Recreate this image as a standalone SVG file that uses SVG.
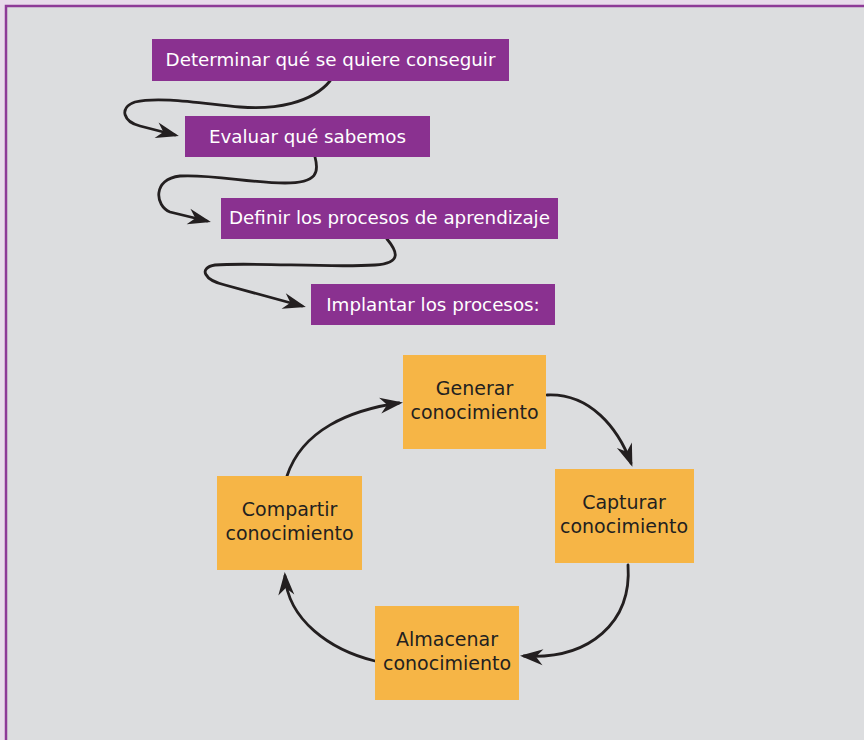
<svg xmlns="http://www.w3.org/2000/svg" width="864" height="740" viewBox="0 0 864 740">
<defs>
<style>
.pbox{fill:#8a3190}
.obox{fill:#f6b546}
.pt{font-family:"DejaVu Sans",sans-serif;font-size:18.3px;fill:#ffffff;text-anchor:middle}
.ot{font-family:"DejaVu Sans",sans-serif;font-size:19px;fill:#231f20;text-anchor:middle}
.con{fill:none;stroke:#231f20;stroke-width:2.8;stroke-linecap:round}
</style>
<marker id="ah" viewBox="-22 -10 28 20" refX="0" refY="0" markerWidth="28" markerHeight="20" markerUnits="userSpaceOnUse" orient="auto">
<path d="M4,0 L-19,-8 L-12,0 L-19,8 Z" fill="#231f20"/>
</marker>
</defs>
<rect x="0" y="0" width="864" height="740" fill="#e8dbeb"/>
<rect x="6" y="6" width="870" height="750" fill="#dcdddf" stroke="#8e3a98" stroke-width="2.5"/>

<g id="connectors">
<path class="con" marker-end="url(#ah)" d="M330,81 C312,103 275,110 240,107 C205,104 160,96 135,102 C118,108 124,122 140,126 L175,135"/>
<path class="con" marker-end="url(#ah)" d="M315,157 C319,172 318,183 285,183 C250,183 212,174 180,176 C152,179 155,206 170,212 L207,221"/>
<path class="con" marker-end="url(#ah)" d="M387,239 C396,250 404,263 375,265 C330,268 252,262 215,265 C198,268 204,280 225,285 L302,306"/>
<path class="con" marker-end="url(#ah)" d="M547,395 C590,393 618,428 631,463"/>
<path class="con" marker-end="url(#ah)" d="M628,565 C632,622 590,660 524,656"/>
<path class="con" marker-end="url(#ah)" d="M375,661 C330,650 288,620 285,576"/>
<path class="con" marker-end="url(#ah)" d="M287,476 C302,430 350,410 399,403"/>
</g>

<g id="n1"><rect class="pbox" x="152" y="39" width="357" height="42"/><text class="pt" x="330.5" y="66">Determinar qué se quiere conseguir</text></g>
<g id="n2"><rect class="pbox" x="185" y="116" width="245" height="41"/><text class="pt" x="307.5" y="143">Evaluar qué sabemos</text></g>
<g id="n3"><rect class="pbox" x="221" y="198" width="337" height="41"/><text class="pt" x="389.5" y="224">Definir los procesos de aprendizaje</text></g>
<g id="n4"><rect class="pbox" x="311" y="284" width="244" height="41"/><text class="pt" x="433" y="311">Implantar los procesos:</text></g>

<g id="generar"><rect class="obox" x="403" y="355" width="143" height="94"/><text class="ot" x="474.5" y="395">Generar</text><text class="ot" x="474.5" y="419">conocimiento</text></g>
<g id="capturar"><rect class="obox" x="555" y="469" width="139" height="94"/><text class="ot" x="624" y="509">Capturar</text><text class="ot" x="624" y="533">conocimiento</text></g>
<g id="almacenar"><rect class="obox" x="375" y="606" width="144" height="94"/><text class="ot" x="447" y="646">Almacenar</text><text class="ot" x="447" y="670">conocimiento</text></g>
<g id="compartir"><rect class="obox" x="217" y="476" width="145" height="94"/><text class="ot" x="289.5" y="516">Compartir</text><text class="ot" x="289.5" y="540">conocimiento</text></g>
</svg>
